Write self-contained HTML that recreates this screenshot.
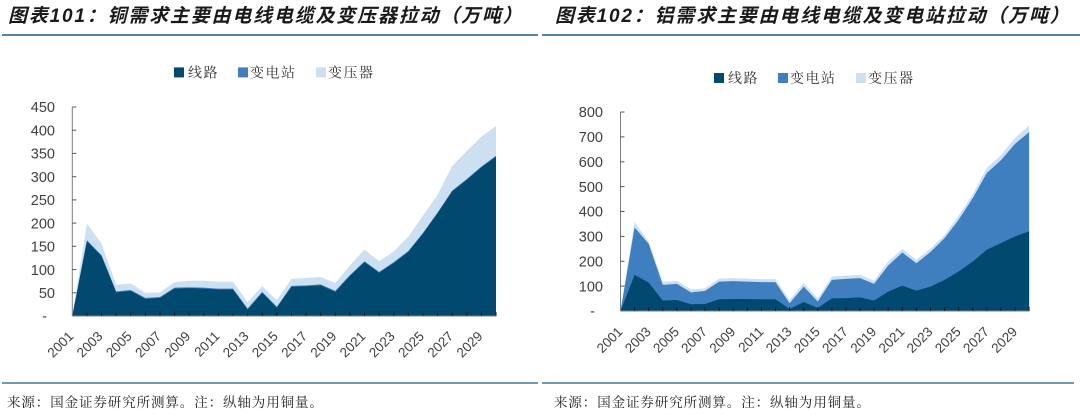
<!DOCTYPE html>
<html><head><meta charset="utf-8">
<style>
html,body{margin:0;padding:0;background:#fff;}
svg{display:block;}
.t{font-family:"Liberation Sans","Noto Sans CJK SC",sans-serif;font-size:19px;font-weight:bold;font-style:italic;letter-spacing:1.8px;fill:#1a1a1a;}
.lg{font-family:"Liberation Serif","Noto Serif CJK SC",serif;font-size:14px;letter-spacing:1.5px;fill:#333;}
.ft{font-family:"Liberation Serif","Noto Serif CJK SC",serif;font-size:13.5px;letter-spacing:0.9px;fill:#222;}
.yl{font-family:"Liberation Sans",sans-serif;font-size:14.5px;fill:#404040;text-anchor:end;}
.xl{font-family:"Liberation Sans",sans-serif;font-size:13.5px;fill:#404040;text-anchor:end;}
</style></head>
<body>
<svg width="1080" height="415" viewBox="0 0 1080 415" xmlns="http://www.w3.org/2000/svg">
<!-- Titles -->
<text class="t" x="8" y="22">图表101：铜需求主要由电线电缆及变压器拉动（万吨）</text>
<text class="t" x="555" y="22">图表102：铝需求主要由电线电缆及变电站拉动（万吨）</text>
<line x1="2" y1="35" x2="538" y2="35" stroke="#1f5a8c" stroke-width="1.5"/>
<line x1="542" y1="35" x2="1080" y2="35" stroke="#1f5a8c" stroke-width="1.5"/>

<!-- Legends -->
<rect x="174" y="67.4" width="10" height="10" fill="#01496f"/>
<text class="lg" x="188" y="77.5">线路</text>
<rect x="238" y="67.4" width="10" height="10" fill="#3f7fbf"/>
<text class="lg" x="250" y="77.5">变电站</text>
<rect x="316" y="67.4" width="10" height="10" fill="#cde0f2"/>
<text class="lg" x="328" y="77.5">变压器</text>

<rect x="714" y="73" width="10" height="10" fill="#01496f"/>
<text class="lg" x="728" y="83">线路</text>
<rect x="778" y="73" width="10" height="10" fill="#3f7fbf"/>
<text class="lg" x="790" y="83">变电站</text>
<rect x="856" y="73" width="10" height="10" fill="#cde0f2"/>
<text class="lg" x="868" y="83">变压器</text>

<!-- LEFT CHART areas -->
<g transform="translate(72.3,316) scale(14.61,-0.4644)">
<polygon fill="#cde0f2" points="0,0 1,199 2,156 3,67 4,70 5,50 6,51 7,73 8,76 9,76 10,74 11,74 12,30 13,64 14,34 15,80 16,82 17,84 18,71 19,109 20,143 21,118 22,139 23,171 24,216 25,261 26,323 27,355 28,386 29,409 29,0"/>
<polygon fill="#3f7fbf" points="0,0 1,163 2,131 3,53 4,56 5,39 6,41 7,61 8,62 9,61 10,59 11,59 12,16 13,52 14,20 15,65 16,66 17,68 18,54 19,88 20,118 21,95 22,116 23,140 24,179 25,223 26,270 27,295 28,322 29,345 29,0"/>
<polygon fill="#01496f" points="0,0 1,161 2,129 3,51 4,54 5,37 6,39 7,59 8,60 9,59 10,57 11,57 12,14 13,50 14,18 15,63 16,64 17,66 18,52 19,86 20,116 21,93 22,114 23,138 24,177 25,221 26,268 27,293 28,320 29,343 29,0"/>
</g>
<!-- left axes -->
<line x1="72.3" y1="107" x2="72.3" y2="316" stroke="#7f7f7f" stroke-width="1"/>
<line x1="72.3" y1="316" x2="496.5" y2="316" stroke="#7f7f7f" stroke-width="1"/>
<g stroke="#555" stroke-width="1">
<line x1="72.3" y1="107" x2="76.3" y2="107"/><line x1="72.3" y1="130.2" x2="76.3" y2="130.2"/><line x1="72.3" y1="153.4" x2="76.3" y2="153.4"/><line x1="72.3" y1="176.7" x2="76.3" y2="176.7"/><line x1="72.3" y1="199.9" x2="76.3" y2="199.9"/><line x1="72.3" y1="223.1" x2="76.3" y2="223.1"/><line x1="72.3" y1="246.3" x2="76.3" y2="246.3"/><line x1="72.3" y1="269.6" x2="76.3" y2="269.6"/><line x1="72.3" y1="292.8" x2="76.3" y2="292.8"/>
</g>
<g stroke="#222" stroke-width="1">
<line x1="86.9" y1="316" x2="86.9" y2="312"/><line x1="101.5" y1="316" x2="101.5" y2="312"/><line x1="116.1" y1="316" x2="116.1" y2="312"/><line x1="130.7" y1="316" x2="130.7" y2="312"/><line x1="145.4" y1="316" x2="145.4" y2="312"/><line x1="160" y1="316" x2="160" y2="312"/><line x1="174.6" y1="316" x2="174.6" y2="312"/><line x1="189.2" y1="316" x2="189.2" y2="312"/><line x1="203.8" y1="316" x2="203.8" y2="312"/><line x1="218.4" y1="316" x2="218.4" y2="312"/><line x1="233" y1="316" x2="233" y2="312"/><line x1="247.6" y1="316" x2="247.6" y2="312"/><line x1="262.2" y1="316" x2="262.2" y2="312"/><line x1="276.8" y1="316" x2="276.8" y2="312"/><line x1="291.5" y1="316" x2="291.5" y2="312"/><line x1="306.1" y1="316" x2="306.1" y2="312"/><line x1="320.7" y1="316" x2="320.7" y2="312"/><line x1="335.3" y1="316" x2="335.3" y2="312"/><line x1="349.9" y1="316" x2="349.9" y2="312"/><line x1="364.5" y1="316" x2="364.5" y2="312"/><line x1="379.1" y1="316" x2="379.1" y2="312"/><line x1="393.7" y1="316" x2="393.7" y2="312"/><line x1="408.3" y1="316" x2="408.3" y2="312"/><line x1="423" y1="316" x2="423" y2="312"/><line x1="437.6" y1="316" x2="437.6" y2="312"/><line x1="452.2" y1="316" x2="452.2" y2="312"/><line x1="466.8" y1="316" x2="466.8" y2="312"/><line x1="481.4" y1="316" x2="481.4" y2="312"/><line x1="496" y1="316" x2="496" y2="312"/>
</g>
<!-- left y labels -->
<text class="yl" x="55" y="112.2">450</text>
<text class="yl" x="55" y="135.4">400</text>
<text class="yl" x="55" y="158.6">350</text>
<text class="yl" x="55" y="181.9">300</text>
<text class="yl" x="55" y="205.1">250</text>
<text class="yl" x="55" y="228.3">200</text>
<text class="yl" x="55" y="251.5">150</text>
<text class="yl" x="55" y="274.8">100</text>
<text class="yl" x="55" y="298">50</text>
<text class="yl" x="47" y="321.2">-</text>
<!-- left x labels -->
<g class="xl">
<text transform="translate(74.3,337) rotate(-45)">2001</text>
<text transform="translate(103.5,337) rotate(-45)">2003</text>
<text transform="translate(132.7,337) rotate(-45)">2005</text>
<text transform="translate(162,337) rotate(-45)">2007</text>
<text transform="translate(191.2,337) rotate(-45)">2009</text>
<text transform="translate(220.4,337) rotate(-45)">2011</text>
<text transform="translate(249.6,337) rotate(-45)">2013</text>
<text transform="translate(278.8,337) rotate(-45)">2015</text>
<text transform="translate(308.1,337) rotate(-45)">2017</text>
<text transform="translate(337.3,337) rotate(-45)">2019</text>
<text transform="translate(366.5,337) rotate(-45)">2021</text>
<text transform="translate(395.7,337) rotate(-45)">2023</text>
<text transform="translate(425,337) rotate(-45)">2025</text>
<text transform="translate(454.2,337) rotate(-45)">2027</text>
<text transform="translate(483.4,337) rotate(-45)">2029</text>
</g>

<!-- RIGHT CHART areas -->
<g transform="translate(620.5,311) scale(14.09,-0.24875)">
<polygon fill="#cde0f2" points="0,0 1,357 2,280 3,117 4,121 5,87 6,91 7,130 8,132 9,130 10,128 11,128 12,44 13,112 14,51 15,138 16,142 17,145 18,122 19,199 20,250 21,206 22,251 23,306 24,383 25,470 26,575 27,626 28,696 29,746 29,0"/>
<polygon fill="#3f7fbf" points="0,0 1,336 2,270 3,105 4,109 5,75 6,81 7,118 8,120 9,118 10,116 11,116 12,31 13,98 14,38 15,125 16,129 17,132 18,109 19,183 20,235 21,192 22,237 23,293 24,367 25,454 26,555 27,606 28,672 29,719 29,0"/>
<polygon fill="#01496f" points="0,0 1,145 2,114 3,42 4,44 5,27 6,28 7,47 8,48 9,48 10,47 11,47 12,8 13,36 14,12 15,51 16,52 17,55 18,42 19,78 20,102 21,82 22,98 23,125 24,159 25,199 26,246 27,273 28,300 29,320 29,0"/>
</g>
<line x1="620.5" y1="112" x2="620.5" y2="311" stroke="#7f7f7f" stroke-width="1"/>
<line x1="620.5" y1="311" x2="1029.5" y2="311" stroke="#7f7f7f" stroke-width="1"/>
<g stroke="#555" stroke-width="1">
<line x1="620.5" y1="112" x2="624.5" y2="112"/><line x1="620.5" y1="136.9" x2="624.5" y2="136.9"/><line x1="620.5" y1="161.8" x2="624.5" y2="161.8"/><line x1="620.5" y1="186.6" x2="624.5" y2="186.6"/><line x1="620.5" y1="211.5" x2="624.5" y2="211.5"/><line x1="620.5" y1="236.4" x2="624.5" y2="236.4"/><line x1="620.5" y1="261.3" x2="624.5" y2="261.3"/><line x1="620.5" y1="286.1" x2="624.5" y2="286.1"/>
</g>
<g stroke="#222" stroke-width="1">
<line x1="634.6" y1="311" x2="634.6" y2="307"/><line x1="648.7" y1="311" x2="648.7" y2="307"/><line x1="662.8" y1="311" x2="662.8" y2="307"/><line x1="676.9" y1="311" x2="676.9" y2="307"/><line x1="690.9" y1="311" x2="690.9" y2="307"/><line x1="705" y1="311" x2="705" y2="307"/><line x1="719.1" y1="311" x2="719.1" y2="307"/><line x1="733.2" y1="311" x2="733.2" y2="307"/><line x1="747.3" y1="311" x2="747.3" y2="307"/><line x1="761.4" y1="311" x2="761.4" y2="307"/><line x1="775.5" y1="311" x2="775.5" y2="307"/><line x1="789.6" y1="311" x2="789.6" y2="307"/><line x1="803.7" y1="311" x2="803.7" y2="307"/><line x1="817.8" y1="311" x2="817.8" y2="307"/><line x1="831.9" y1="311" x2="831.9" y2="307"/><line x1="845.9" y1="311" x2="845.9" y2="307"/><line x1="860" y1="311" x2="860" y2="307"/><line x1="874.1" y1="311" x2="874.1" y2="307"/><line x1="888.2" y1="311" x2="888.2" y2="307"/><line x1="902.3" y1="311" x2="902.3" y2="307"/><line x1="916.4" y1="311" x2="916.4" y2="307"/><line x1="930.5" y1="311" x2="930.5" y2="307"/><line x1="944.6" y1="311" x2="944.6" y2="307"/><line x1="958.7" y1="311" x2="958.7" y2="307"/><line x1="972.8" y1="311" x2="972.8" y2="307"/><line x1="986.9" y1="311" x2="986.9" y2="307"/><line x1="1000.9" y1="311" x2="1000.9" y2="307"/><line x1="1015" y1="311" x2="1015" y2="307"/><line x1="1029.1" y1="311" x2="1029.1" y2="307"/>
</g>
<text class="yl" x="603" y="117.2">800</text>
<text class="yl" x="603" y="142.1">700</text>
<text class="yl" x="603" y="167">600</text>
<text class="yl" x="603" y="191.8">500</text>
<text class="yl" x="603" y="216.7">400</text>
<text class="yl" x="603" y="241.6">300</text>
<text class="yl" x="603" y="266.5">200</text>
<text class="yl" x="603" y="291.3">100</text>
<text class="yl" x="595" y="316.2">-</text>
<g class="xl">
<text transform="translate(623.5,332.5) rotate(-45)">2001</text>
<text transform="translate(651.7,332.5) rotate(-45)">2003</text>
<text transform="translate(679.9,332.5) rotate(-45)">2005</text>
<text transform="translate(708,332.5) rotate(-45)">2007</text>
<text transform="translate(736.2,332.5) rotate(-45)">2009</text>
<text transform="translate(764.4,332.5) rotate(-45)">2011</text>
<text transform="translate(792.6,332.5) rotate(-45)">2013</text>
<text transform="translate(820.8,332.5) rotate(-45)">2015</text>
<text transform="translate(849,332.5) rotate(-45)">2017</text>
<text transform="translate(877.2,332.5) rotate(-45)">2019</text>
<text transform="translate(905.4,332.5) rotate(-45)">2021</text>
<text transform="translate(933.5,332.5) rotate(-45)">2023</text>
<text transform="translate(961.7,332.5) rotate(-45)">2025</text>
<text transform="translate(989.9,332.5) rotate(-45)">2027</text>
<text transform="translate(1018.1,332.5) rotate(-45)">2029</text>
</g>

<!-- Footer -->
<line x1="2" y1="383" x2="538" y2="383" stroke="#1f5a8c" stroke-width="1.2"/>
<line x1="542" y1="383" x2="1074" y2="383" stroke="#1f5a8c" stroke-width="1.2"/>
<text class="ft" x="7" y="407">来源：国金证券研究所测算。注：纵轴为用铜量。</text>
<text class="ft" x="554" y="407">来源：国金证券研究所测算。注：纵轴为用铜量。</text>
</svg>
</body></html>
